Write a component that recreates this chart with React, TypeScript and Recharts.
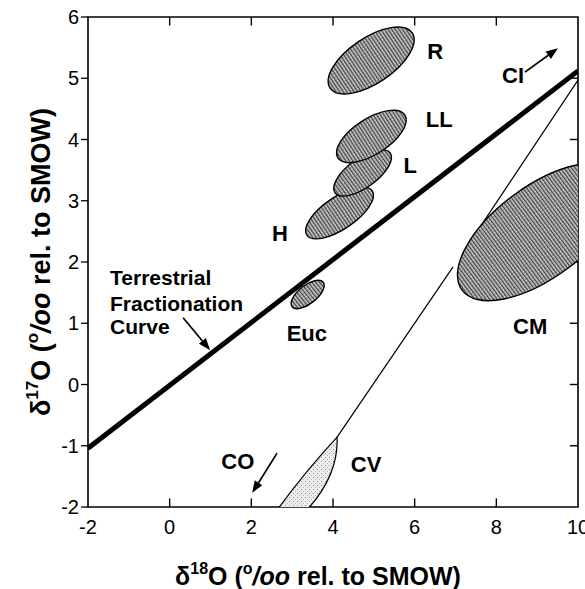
import React from 'react';
import { ScatterChart, Scatter, XAxis, YAxis, ReferenceArea, ReferenceLine } from 'recharts';

const FONT = '"Liberation Sans", Arial, Helvetica, sans-serif';

// axes
const xTicks = [-2, 0, 2, 4, 6, 8, 10];
const yTicks = [-2, -1, 0, 1, 2, 3, 4, 5, 6];
const xInnerTicks = [0, 2, 4, 6, 8];
const yInnerTicks = [-1, 0, 1, 2, 3, 4, 5];
const TICK_DY = 0.14; // inner tick length in y units
const TICK_DX = 0.2; // inner tick length in x units

// meteorite group fields: ends of the long axis (data units) and width/length ratio
const ellipseNames = ['R', 'H', 'L', 'LL', 'Euc', 'CM'];
const ellipseX1 = [3.93, 3.36, 4.05, 4.12, 3.0, 7.16];
const ellipseY1 = [4.84, 2.44, 3.13, 3.7, 1.27, 1.54];
const ellipseX2 = [5.94, 4.96, 5.4, 5.76, 3.76, 11.0];
const ellipseY2 = [5.74, 3.16, 3.78, 4.4, 1.67, 3.44];
const ellipseRatio = [0.46, 0.41, 0.43, 0.45, 0.46, 0.466];

// CV field outline: base-left, control, tip, control, base-right
const cvX = [2.63, 3.31, 4.1, 4.14, 3.36];
const cvY = [-2.05, -1.43, -0.86, -1.48, -2.05];

// terrestrial fractionation line
const tfX = [-2, 10];
const tfY = [-1.04, 5.12];

// carbonaceous chondrite mixing line (two pieces)
const ccLowX = [4.1, 6.94];
const ccLowY = [-0.86, 1.92];
const ccHighX = [7.6, 10];
const ccHighY = [2.57, 4.97];

// arrows (tail -> head)
const arrowNames = ['CI', 'CO', 'TF'];
const arrowX1 = [8.7, 2.63, 0.33];
const arrowY1 = [5.1, -1.12, 1.09];
const arrowX2 = [9.51, 2.02, 0.99];
const arrowY2 = [5.49, -1.77, 0.56];

// group labels
const labelText = ['R', 'CI', 'LL', 'L', 'H', 'Euc', 'CM', 'CV', 'CO'];
const labelX = [6.5, 8.41, 6.6, 5.89, 2.7, 3.36, 8.83, 4.81, 1.67];
const labelY = [5.43, 5.04, 4.32, 3.58, 2.46, 0.84, 0.955, -1.31, -1.25];

// terrestrial fractionation curve caption
const tfText = ['Terrestrial', 'Fractionation', 'Curve'];
const tfTextX = [-1.46, -1.46, -1.46];
const tfTextY = [1.74, 1.33, 0.955];

const pts = (xs: number[], ys: number[]) => xs.map((x, i) => ({ x, y: ys[i] }));

const Empty = () => <g />;

const Defs = () => (
  <defs>
    <pattern id="stipDark" width="3" height="3" patternUnits="userSpaceOnUse">
      <rect width="3" height="3" fill="#a8a8a8" />
      <rect x="0" y="0" width="1" height="3" fill="#404040" />
      <rect x="2" y="1" width="1" height="1" fill="#e8e8e8" />
    </pattern>
    <pattern id="stipLight" width="4" height="4" patternUnits="userSpaceOnUse">
      <rect width="4" height="4" fill="#eeeeee" />
      <rect x="1" y="1" width="1" height="1" fill="#8a8a8a" />
      <rect x="3" y="3" width="1" height="1" fill="#b0b0b0" />
    </pattern>
  </defs>
);

const makeEllipse = (ratio: number, withDefs: boolean) => (props: any) => {
  const p = props.points || [];
  if (p.length < 2) return <g />;
  const a = p[0];
  const b = p[1];
  const cx = (a.x + b.x) / 2;
  const cy = (a.y + b.y) / 2;
  const rx = Math.hypot(b.x - a.x, b.y - a.y) / 2;
  const ry = rx * ratio;
  const ang = (Math.atan2(b.y - a.y, b.x - a.x) * 180) / Math.PI;
  return (
    <g>
      {withDefs ? <Defs /> : null}
      <ellipse
        cx={cx}
        cy={cy}
        rx={rx}
        ry={ry}
        transform={`rotate(${ang} ${cx} ${cy})`}
        fill="url(#stipDark)"
        stroke="#000"
        strokeWidth={1.4}
      />
    </g>
  );
};

const cvShape = (props: any) => {
  const p = props.points || [];
  if (p.length < 5) return <g />;
  const d = `M${p[0].x},${p[0].y} Q${p[1].x},${p[1].y} ${p[2].x},${p[2].y} Q${p[3].x},${p[3].y} ${p[4].x},${p[4].y} Z`;
  return <path d={d} fill="url(#stipLight)" stroke="#000" strokeWidth={1.2} />;
};

const makeStraight = (w: number) => (props: any) => {
  const p = props.points || [];
  if (p.length < 2) return <g />;
  return <line x1={p[0].x} y1={p[0].y} x2={p[1].x} y2={p[1].y} stroke="#000" strokeWidth={w} />;
};

const arrowShape = (props: any) => {
  const p = props.points || [];
  if (p.length < 2) return <g />;
  const a = p[0];
  const b = p[1];
  const ang = Math.atan2(b.y - a.y, b.x - a.x);
  const L = 12;
  const Wd = 4.5;
  const c = Math.cos(ang);
  const s = Math.sin(ang);
  const bx = b.x - L * c;
  const by = b.y - L * s;
  const lx = bx + Wd * s;
  const ly = by - Wd * c;
  const rx = bx - Wd * s;
  const ry = by + Wd * c;
  return (
    <g>
      <line x1={a.x} y1={a.y} x2={bx} y2={by} stroke="#000" strokeWidth={1.7} />
      <polygon points={`${b.x},${b.y} ${lx},${ly} ${rx},${ry}`} fill="#000" />
    </g>
  );
};

const labelShape = (props: any) => {
  const { cx, cy, payload } = props;
  return (
    <text
      x={cx}
      y={cy}
      textAnchor="middle"
      dominantBaseline="central"
      fontFamily={FONT}
      fontWeight="bold"
      fontSize={22}
      fill="#000"
    >
      {payload.text}
    </text>
  );
};

const captionShape = (props: any) => {
  const { cx, cy, payload } = props;
  return (
    <text
      x={cx}
      y={cy}
      textAnchor="start"
      dominantBaseline="central"
      fontFamily={FONT}
      fontWeight="bold"
      fontSize={21}
      fill="#000"
    >
      {payload.text}
    </text>
  );
};

const XTitle = (props: any) => {
  const vb = props.viewBox || {};
  const x = vb.x + vb.width / 2 - 15;
  const y = vb.y + 78;
  return (
    <text x={x} y={y} textAnchor="middle" fontFamily={FONT} fontWeight="bold" fontSize={25} fill="#000">
      <tspan>δ</tspan>
      <tspan dy={-11} fontSize={16}>18</tspan>
      <tspan dy={11}>O (</tspan>
      <tspan dy={-11} fontSize={16}>o</tspan>
      <tspan dy={11} fontStyle="italic">/oo</tspan>
      <tspan> rel. to SMOW)</tspan>
    </text>
  );
};

const YTitle = (props: any) => {
  const vb = props.viewBox || {};
  const x = vb.x + 50;
  const y = vb.y + vb.height / 2;
  return (
    <text
      x={x}
      y={y}
      transform={`rotate(-90 ${x} ${y})`}
      textAnchor="middle"
      fontFamily={FONT}
      fontWeight="bold"
      fontSize={27}
      fill="#000"
    >
      <tspan>δ</tspan>
      <tspan dy={-12} fontSize={17}>17</tspan>
      <tspan dy={12}>O (</tspan>
      <tspan dy={-12} fontSize={17}>o</tspan>
      <tspan dy={12} fontStyle="italic">/oo</tspan>
      <tspan> rel. to SMOW)</tspan>
    </text>
  );
};

const ax = { xAxisId: 'b', yAxisId: 'l' } as const;

export default function App() {
  const order = ellipseNames.map((_, i) => i);
  return (
    <div style={{ position: 'absolute', left: 0, top: 0, width: 585, height: 589, background: '#fff' }}>
      <ScatterChart width={585} height={589} margin={{ top: 17, right: 7, bottom: 0, left: 0 }}>
        <XAxis
          xAxisId="b"
          type="number"
          dataKey="x"
          domain={[-2, 10]}
          ticks={xTicks}
          interval={0}
          allowDataOverflow
          orientation="bottom"
          height={82}
          tickLine={false}
          tickSize={6}
          tickMargin={7}
          axisLine={false}
          tick={{ fill: '#000', fontSize: 20, fontFamily: FONT }}
          label={<XTitle />}
        />
        <YAxis
          yAxisId="l"
          type="number"
          dataKey="y"
          domain={[-2, 6]}
          ticks={yTicks}
          interval={0}
          allowDataOverflow
          orientation="left"
          width={88}
          tickSize={7}
          tickMargin={2}
          tickLine={{ stroke: '#000', strokeWidth: 1.3 }}
          axisLine={false}
          tick={{ fill: '#000', fontSize: 20, fontFamily: FONT }}
          label={<YTitle />}
        />
        <ReferenceArea {...ax} x1={-2} x2={10} y1={-2} y2={6} fill="none" fillOpacity={0} stroke="#000" strokeWidth={1.6} ifOverflow="visible" />
        {xInnerTicks.map((t) => (
          <ReferenceLine
            key={`top${t}`}
            {...ax}
            segment={[{ x: t, y: 6 }, { x: t, y: 6 - TICK_DY }]}
            stroke="#000"
            strokeWidth={1.4}
            ifOverflow="visible"
          />
        ))}
        {xInnerTicks.map((t) => (
          <ReferenceLine
            key={`bot${t}`}
            {...ax}
            segment={[{ x: t, y: -2 }, { x: t, y: -2 + TICK_DY }]}
            stroke="#000"
            strokeWidth={1.4}
            ifOverflow="visible"
          />
        ))}
        {yInnerTicks.map((t) => (
          <ReferenceLine
            key={`rt${t}`}
            {...ax}
            segment={[{ x: 10, y: t }, { x: 10 - TICK_DX, y: t }]}
            stroke="#000"
            strokeWidth={1.4}
            ifOverflow="visible"
          />
        ))}
        {order.map((i) => (
          <Scatter
            key={ellipseNames[i]}
            {...ax}
            name={ellipseNames[i]}
            data={pts([ellipseX1[i], ellipseX2[i]], [ellipseY1[i], ellipseY2[i]])}
            shape={Empty}
            line={makeEllipse(ellipseRatio[i], i === 0)}
            isAnimationActive={false}
          />
        ))}
        <Scatter {...ax} name="CV" data={pts(cvX, cvY)} shape={Empty} line={cvShape} isAnimationActive={false} />
        <Scatter {...ax} name="cc-low" data={pts(ccLowX, ccLowY)} shape={Empty} line={makeStraight(1.2)} isAnimationActive={false} />
        <Scatter {...ax} name="cc-high" data={pts(ccHighX, ccHighY)} shape={Empty} line={makeStraight(1.2)} isAnimationActive={false} />
        <Scatter {...ax} name="TF" data={pts(tfX, tfY)} shape={Empty} line={makeStraight(5)} isAnimationActive={false} />
        {arrowNames.map((n, i) => (
          <Scatter
            key={n}
            {...ax}
            name={`arrow-${n}`}
            data={pts([arrowX1[i], arrowX2[i]], [arrowY1[i], arrowY2[i]])}
            shape={Empty}
            line={arrowShape}
            isAnimationActive={false}
          />
        ))}
        <Scatter
          {...ax}
          name="labels"
          data={labelText.map((t, i) => ({ x: labelX[i], y: labelY[i], text: t }))}
          shape={labelShape}
          isAnimationActive={false}
        />
        <Scatter
          {...ax}
          name="caption"
          data={tfText.map((t, i) => ({ x: tfTextX[i], y: tfTextY[i], text: t }))}
          shape={captionShape}
          isAnimationActive={false}
        />
      </ScatterChart>
    </div>
  );
}
